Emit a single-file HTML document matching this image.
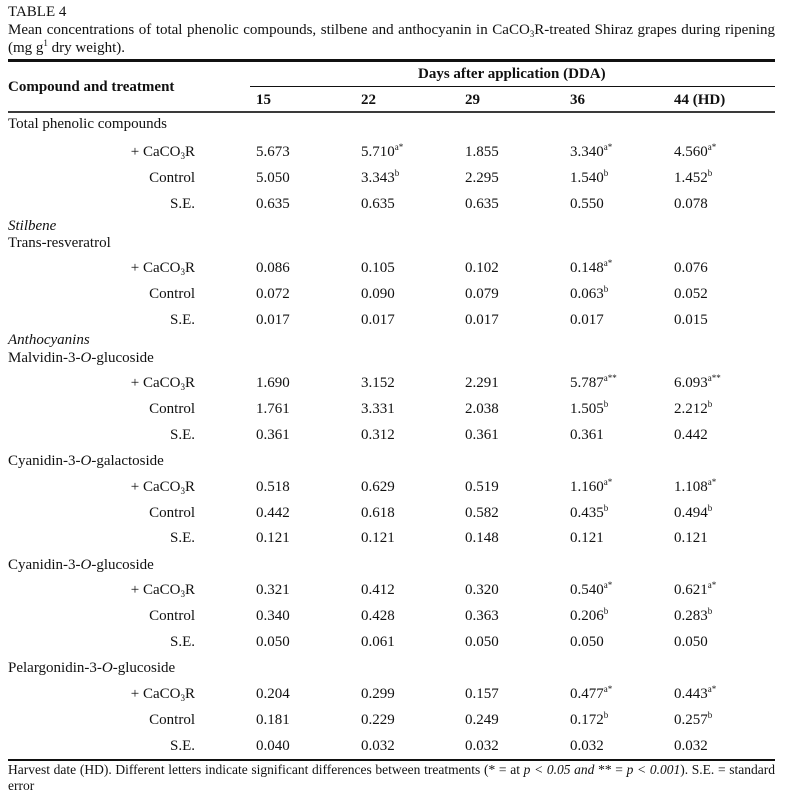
<!DOCTYPE html>
<html>
<head>
<meta charset="utf-8">
<style>
html,body{margin:0;padding:0;background:#fff;}
body{width:786px;height:796px;position:relative;overflow:hidden;font-family:"Liberation Serif","Times New Roman",serif;color:#111;font-size:15px;}
.t{position:absolute;white-space:nowrap;line-height:15px;}
.j{position:absolute;left:8px;width:767px;white-space:nowrap;line-height:15px;text-align:justify;text-align-last:justify;}
.r{position:absolute;left:0;width:786px;height:15px;}
.r span{position:absolute;top:0;line-height:15px;white-space:nowrap;}
.l{right:591px;text-align:right;}
.c1{left:256px}.c2{left:361px}.c3{left:465px}.c4{left:570px}.c5{left:674px}
sup{font-size:9px;vertical-align:6px;line-height:0;}
sub{font-size:9px;vertical-align:-3px;line-height:0;}
.b{font-weight:bold;}
.hr{position:absolute;background:#111;}
.fn{font-size:13.5px;line-height:16px;}
</style>
</head>
<body>
<div class="t" style="left:8px;top:4.5px;">TABLE 4</div>
<div class="j" style="top:22.5px;">Mean concentrations of total phenolic compounds, stilbene and anthocyanin in CaCO<sub>3</sub>R-treated Shiraz grapes during ripening</div>
<div class="t" style="left:8px;top:40.5px;">(mg g<sup>1</sup> dry weight).</div>

<div class="hr" style="left:8px;top:59px;width:767px;height:3px;"></div>
<div class="t b" style="left:418px;top:66.5px;">Days after application (DDA)</div>
<div class="hr" style="left:250px;top:86px;width:525px;height:1px;"></div>
<div class="t b" style="left:8px;top:79.5px;">Compound and treatment</div>
<div class="r b" style="top:92.5px;"><span class="c1">15</span><span class="c2">22</span><span class="c3">29</span><span class="c4">36</span><span class="c5">44 (HD)</span></div>
<div class="hr" style="left:8px;top:111px;width:767px;height:2px;background:#3a3a3a;"></div>

<div class="t" style="left:8px;top:116.5px;">Total phenolic compounds</div>
<div class="r" style="top:144.5px;"><span class="l">+ CaCO<sub>3</sub>R</span><span class="c1">5.673</span><span class="c2">5.710<sup>a*</sup></span><span class="c3">1.855</span><span class="c4">3.340<sup>a*</sup></span><span class="c5">4.560<sup>a*</sup></span></div>
<div class="r" style="top:170.5px;"><span class="l">Control</span><span class="c1">5.050</span><span class="c2">3.343<sup>b</sup></span><span class="c3">2.295</span><span class="c4">1.540<sup>b</sup></span><span class="c5">1.452<sup>b</sup></span></div>
<div class="r" style="top:196.5px;"><span class="l">S.E.</span><span class="c1">0.635</span><span class="c2">0.635</span><span class="c3">0.635</span><span class="c4">0.550</span><span class="c5">0.078</span></div>

<div class="t" style="left:8px;top:218.5px;"><i>Stilbene</i></div>
<div class="t" style="left:8px;top:235.5px;">Trans-resveratrol</div>
<div class="r" style="top:260.5px;"><span class="l">+ CaCO<sub>3</sub>R</span><span class="c1">0.086</span><span class="c2">0.105</span><span class="c3">0.102</span><span class="c4">0.148<sup>a*</sup></span><span class="c5">0.076</span></div>
<div class="r" style="top:286.5px;"><span class="l">Control</span><span class="c1">0.072</span><span class="c2">0.090</span><span class="c3">0.079</span><span class="c4">0.063<sup>b</sup></span><span class="c5">0.052</span></div>
<div class="r" style="top:312.5px;"><span class="l">S.E.</span><span class="c1">0.017</span><span class="c2">0.017</span><span class="c3">0.017</span><span class="c4">0.017</span><span class="c5">0.015</span></div>

<div class="t" style="left:8px;top:332.5px;"><i>Anthocyanins</i></div>
<div class="t" style="left:8px;top:350.5px;">Malvidin-3-<i>O</i>-glucoside</div>
<div class="r" style="top:375.5px;"><span class="l">+ CaCO<sub>3</sub>R</span><span class="c1">1.690</span><span class="c2">3.152</span><span class="c3">2.291</span><span class="c4">5.787<sup>a**</sup></span><span class="c5">6.093<sup>a**</sup></span></div>
<div class="r" style="top:401.5px;"><span class="l">Control</span><span class="c1">1.761</span><span class="c2">3.331</span><span class="c3">2.038</span><span class="c4">1.505<sup>b</sup></span><span class="c5">2.212<sup>b</sup></span></div>
<div class="r" style="top:427.5px;"><span class="l">S.E.</span><span class="c1">0.361</span><span class="c2">0.312</span><span class="c3">0.361</span><span class="c4">0.361</span><span class="c5">0.442</span></div>

<div class="t" style="left:8px;top:453.5px;">Cyanidin-3-<i>O</i>-galactoside</div>
<div class="r" style="top:479.5px;"><span class="l">+ CaCO<sub>3</sub>R</span><span class="c1">0.518</span><span class="c2">0.629</span><span class="c3">0.519</span><span class="c4">1.160<sup>a*</sup></span><span class="c5">1.108<sup>a*</sup></span></div>
<div class="r" style="top:505.5px;"><span class="l">Control</span><span class="c1">0.442</span><span class="c2">0.618</span><span class="c3">0.582</span><span class="c4">0.435<sup>b</sup></span><span class="c5">0.494<sup>b</sup></span></div>
<div class="r" style="top:530.5px;"><span class="l">S.E.</span><span class="c1">0.121</span><span class="c2">0.121</span><span class="c3">0.148</span><span class="c4">0.121</span><span class="c5">0.121</span></div>

<div class="t" style="left:8px;top:557.5px;">Cyanidin-3-<i>O</i>-glucoside</div>
<div class="r" style="top:582.5px;"><span class="l">+ CaCO<sub>3</sub>R</span><span class="c1">0.321</span><span class="c2">0.412</span><span class="c3">0.320</span><span class="c4">0.540<sup>a*</sup></span><span class="c5">0.621<sup>a*</sup></span></div>
<div class="r" style="top:608.5px;"><span class="l">Control</span><span class="c1">0.340</span><span class="c2">0.428</span><span class="c3">0.363</span><span class="c4">0.206<sup>b</sup></span><span class="c5">0.283<sup>b</sup></span></div>
<div class="r" style="top:634.5px;"><span class="l">S.E.</span><span class="c1">0.050</span><span class="c2">0.061</span><span class="c3">0.050</span><span class="c4">0.050</span><span class="c5">0.050</span></div>

<div class="t" style="left:8px;top:660.5px;">Pelargonidin-3-<i>O</i>-glucoside</div>
<div class="r" style="top:686.5px;"><span class="l">+ CaCO<sub>3</sub>R</span><span class="c1">0.204</span><span class="c2">0.299</span><span class="c3">0.157</span><span class="c4">0.477<sup>a*</sup></span><span class="c5">0.443<sup>a*</sup></span></div>
<div class="r" style="top:712.5px;"><span class="l">Control</span><span class="c1">0.181</span><span class="c2">0.229</span><span class="c3">0.249</span><span class="c4">0.172<sup>b</sup></span><span class="c5">0.257<sup>b</sup></span></div>
<div class="r" style="top:738.5px;"><span class="l">S.E.</span><span class="c1">0.040</span><span class="c2">0.032</span><span class="c3">0.032</span><span class="c4">0.032</span><span class="c5">0.032</span></div>

<div class="hr" style="left:8px;top:759px;width:767px;height:2px;"></div>
<div class="j fn" style="top:761.5px;">Harvest date (HD). Different letters indicate significant differences between treatments (* = at <i>p &lt; 0.05 and</i> ** = <i>p &lt; 0.001</i>). S.E. = standard</div>
<div class="t fn" style="left:8px;top:777.5px;">error</div>
</body>
</html>
